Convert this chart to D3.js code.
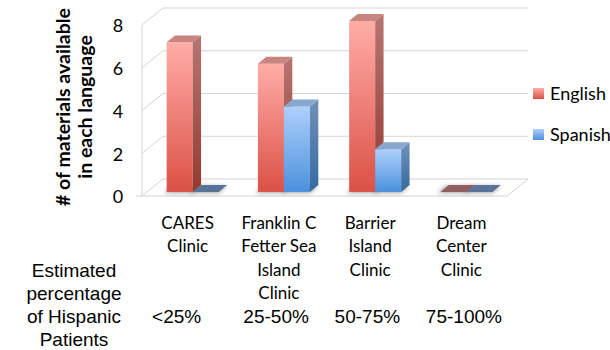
<!DOCTYPE html>
<html>
<head>
<meta charset="utf-8">
<script src="https://cdn.jsdelivr.net/npm/d3@7"></script>
<style>
  body { margin: 0; background: #fff; }
  svg { display: block; }
</style>
</head>
<body>
<div id="chart"></div>
<script>
// dados do gráfico
const categories = ["CARES Clinic", "Franklin C Fetter Sea Island Clinic", "Barrier Island Clinic", "Dream Center Clinic"];
const categoryLines = [
  ["CARES", "Clinic"],
  ["Franklin C", "Fetter Sea", "Island", "Clinic"],
  ["Barrier", "Island", "Clinic"],
  ["Dream", "Center", "Clinic"],
];
const percentages = ["<25%", "25-50%", "50-75%", "75-100%"];
const seriesNames = ["English", "Spanish"];
const englishValues = [7, 6, 8, 0];
const spanishValues = [0, 4, 2, 0];
const yTicks = [0, 2, 4, 6, 8];
const rowTitle = ["Estimated", "percentage", "of Hispanic", "Patients"];
const yTitle = ["# of materials available", "in each language"];

// cores de cada série
const colors = {
  English: { top: "#ffaca7", bottom: "#db5146", sideTop: "#b77572", sideBottom: "#94392f", lid: "#c88580", flat: "#915f5f" },
  Spanish: { top: "#aed0fc", bottom: "#4b90dc", sideTop: "#7190b9", sideBottom: "#356a9f", lid: "#89a8d0", flat: "#5a7399" },
};

const W = 610, H = 350;
const DX = 21, DY = -17; // deslocamento da profundidade 3D
const d0 = 0.24, d1 = 0.64; // profundidade das barras

const svg = d3.select("#chart").append("svg").attr("width", W).attr("height", H);
const defs = svg.append("defs");

seriesNames.forEach((s) => {
  const c = colors[s];
  const g1 = defs.append("linearGradient").attr("id", "front-" + s).attr("x1", 0).attr("y1", 0).attr("x2", 0).attr("y2", 1);
  g1.append("stop").attr("offset", "0%").attr("stop-color", c.top);
  g1.append("stop").attr("offset", "100%").attr("stop-color", c.bottom);
  const g2 = defs.append("linearGradient").attr("id", "side-" + s).attr("x1", 0).attr("y1", 0).attr("x2", 0).attr("y2", 1);
  g2.append("stop").attr("offset", "0%").attr("stop-color", c.sideTop);
  g2.append("stop").attr("offset", "100%").attr("stop-color", c.sideBottom);
});
defs.append("filter").attr("id", "blur").attr("x", "-50%").attr("y", "-100%").attr("width", "200%").attr("height", "300%")
  .append("feGaussianBlur").attr("stdDeviation", 2.2);

// escalas
const x = d3.scaleBand().domain(categories).range([142, 507]).paddingInner(0.43).paddingOuter(0.215);
const xs = d3.scaleBand().domain(seriesNames).range([0, x.bandwidth()]);
const y = d3.scaleLinear().domain([0, 8]).range([196, 25]);

const proj = (px, py, d) => [px + DX * d, py + DY * d];
const pts = (arr) => arr.map((p) => p.join(",")).join(" ");

// grade e paredes
const grid = svg.append("g").attr("stroke", "#d3d3d3").attr("stroke-width", 1).attr("fill", "none");
const x0 = x.range()[0], x1 = x.range()[1];
yTicks.forEach((v) => {
  const a = proj(x0, y(v), 0), b = proj(x0, y(v), 1), c = proj(x1, y(v), 1);
  grid.append("polyline").attr("points", pts([a, b, c]));
});
grid.append("line").attr("x1", x0).attr("x2", x0).attr("y1", y(0)).attr("y2", y(8));
grid.append("polyline").attr("points", pts([[x0 - 6, y(0)], [x1, y(0)], proj(x1, y(0), 1)]));

// barras
const bars = svg.append("g");
categories.forEach((cat, i) => {
  const vals = { English: englishValues[i], Spanish: spanishValues[i] };
  seriesNames.forEach((s) => {
    const bx0 = x(cat) + xs(s), bx1 = bx0 + xs.bandwidth();
    const yb = y(0);
    // sombra
    bars.append("polygon")
      .attr("points", pts([proj(bx0 - 3, yb + 1, d0), proj(bx0 - 3, yb + 1, d1), proj(bx1, yb + 1, d1), proj(bx1, yb + 1, d0)]))
      .attr("fill", "#000").attr("opacity", 0.35).attr("filter", "url(#blur)");
  });
  seriesNames.forEach((s) => {
    const v = vals[s];
    const c = colors[s];
    const bx0 = x(cat) + xs(s), bx1 = bx0 + xs.bandwidth();
    const yb = y(0), yt = y(v);
    if (v === 0) {
      bars.append("polygon")
        .attr("points", pts([proj(bx0, yb, d0), proj(bx0, yb, d1), proj(bx1, yb, d1), proj(bx1, yb, d0)]))
        .attr("fill", c.flat);
      return;
    }
    const f0 = proj(bx0, yt, d0), f1 = proj(bx1, yb, d0);
    bars.append("rect")
      .attr("x", f0[0]).attr("y", f0[1]).attr("width", f1[0] - f0[0]).attr("height", f1[1] - f0[1])
      .attr("fill", `url(#front-${s})`);
    bars.append("polygon")
      .attr("points", pts([proj(bx1, yt, d0), proj(bx1, yt, d1), proj(bx1, yb, d1), proj(bx1, yb, d0)]))
      .attr("fill", `url(#side-${s})`);
    bars.append("polygon")
      .attr("points", pts([proj(bx0, yt, d0), proj(bx0, yt, d1), proj(bx1, yt, d1), proj(bx1, yt, d0)]))
      .attr("fill", c.lid);
  });
});

// rótulos do eixo Y
svg.append("g")
  .selectAll("text")
  .data(yTicks)
  .join("text")
  .attr("x", 118)
  .attr("y", (d) => y(d) + 1)
  .attr("dy", "0.35em")
  .attr("text-anchor", "middle")
  .attr("font-family", "Lato, 'Open Sans', sans-serif")
  .attr("font-size", "18px")
  .attr("fill", "#000")
  .text((d) => d);

// título do eixo Y
svg.append("g")
  .attr("transform", "translate(63,107) rotate(-90)")
  .selectAll("text")
  .data(yTitle)
  .join("text")
  .attr("x", 0)
  .attr("y", (d, i) => i * 22)
  .attr("dy", "0.35em")
  .attr("text-anchor", "middle")
  .attr("font-family", "Lato, 'Open Sans', sans-serif")
  .attr("font-weight", "bold")
  .attr("font-size", "19.5px")
  .attr("fill", "#000")
  .text((d) => d);

// rótulos das categorias
const catG = svg.append("g")
  .attr("font-family", "Lato, 'Open Sans', sans-serif")
  .attr("font-size", "17px")
  .attr("fill", "#000")
  .attr("text-anchor", "middle");
categories.forEach((cat, i) => {
  catG.append("text")
    .attr("x", x(cat) + x.bandwidth() / 2)
    .attr("y", 223)
    .selectAll("tspan")
    .data(categoryLines[i])
    .join("tspan")
    .attr("x", x(cat) + x.bandwidth() / 2)
    .attr("y", (d, j) => 223 + j * 23.5)
    .attr("dy", "0.35em")
    .text((d) => d);
});

// percentuais
svg.append("g")
  .selectAll("text")
  .data(percentages)
  .join("text")
  .attr("x", (d, i) => x(categories[i]) - 9.5)
  .attr("y", 316)
  .attr("dy", "0.35em")
  .attr("font-family", "'Liberation Sans', Arial, sans-serif")
  .attr("font-size", "19px")
  .attr("fill", "#000")
  .text((d) => d);

svg.append("g")
  .selectAll("text")
  .data(rowTitle)
  .join("text")
  .attr("x", 74)
  .attr("y", (d, i) => 270 + i * 23)
  .attr("dy", "0.35em")
  .attr("text-anchor", "middle")
  .attr("font-family", "'Liberation Sans', Arial, sans-serif")
  .attr("font-size", "19px")
  .attr("fill", "#000")
  .text((d) => d);

// legenda
const legend = svg.append("g")
  .selectAll("g")
  .data(seriesNames)
  .join("g")
  .attr("transform", (d, i) => `translate(533,${88 + i * 41})`);
legend.append("rect")
  .attr("width", 11).attr("height", 11)
  .attr("fill", (d) => `url(#front-${d})`);
legend.append("text")
  .attr("x", 17).attr("y", 5.5).attr("dy", "0.35em")
  .attr("font-family", "Lato, 'Open Sans', sans-serif")
  .attr("font-size", "18px")
  .attr("fill", "#000")
  .text((d) => d);
</script>
</body>
</html>
